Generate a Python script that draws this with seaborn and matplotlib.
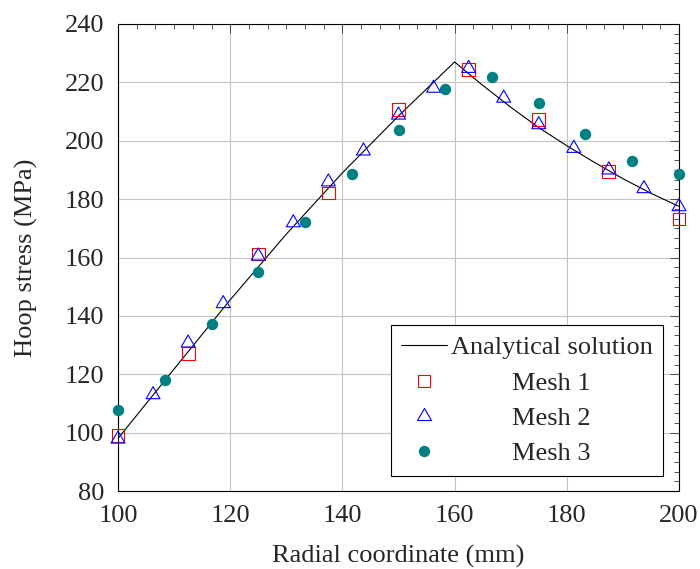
import numpy as np
import pandas as pd
import matplotlib
matplotlib.use("Agg")
import matplotlib.pyplot as plt
import seaborn as sns
from matplotlib.path import Path
from matplotlib.lines import Line2D
from matplotlib.ticker import MultipleLocator, AutoMinorLocator

# ---------------- data ----------------
analytical_r = [100, 110, 120, 130, 140, 150, 160, 165, 170, 175, 180, 185, 190, 195, 200]
analytical_s = [98, 121.8, 145.5, 168, 189, 208.5, 227, 219, 211.5, 204.5, 198.3, 192.5, 187, 182, 177.5]

mesh1_r = [100, 112.5, 125, 137.5, 150, 162.5, 175, 187.5, 200]
mesh1_s = [99.1, 127.2, 161.2, 182.1, 210.8, 224.5, 207.4, 189.5, 173.2]

mesh2_r = [100, 106.25, 112.5, 118.75, 125, 131.25, 137.5, 143.75, 150,
           156.25, 162.5, 168.75, 175, 181.25, 187.5, 193.75, 200]
mesh2_s = [97.8, 113.0, 130.7, 144.2, 160.5, 171.9, 185.9, 196.5, 208.8,
           218.0, 224.8, 214.6, 205.5, 197.4, 190.0, 183.6, 177.4]

mesh3_r = [100, 108.33, 116.67, 125, 133.33, 141.67, 150, 158.33, 166.67,
           175, 183.33, 191.67, 200]
mesh3_s = [107.8, 118.1, 137.1, 154.9, 172.2, 188.6, 203.8, 217.8, 221.8,
           212.9, 202.4, 193.2, 188.7]

labels = ["Analytical solution", "Mesh 1", "Mesh 2", "Mesh 3"]
x_label = "Radial coordinate (mm)"
y_label = "Hoop stress (MPa)"

# ---------------- style ----------------
sns.set_style("white")
plt.rcParams["font.family"] = ["Liberation Serif", "DejaVu Serif"]
plt.rcParams["mathtext.fontset"] = "stix"
FS = 19

tri = Path([(0, 1), (-0.8660, -0.5), (0.8660, -0.5), (0, 1)],
           [Path.MOVETO, Path.LINETO, Path.LINETO, Path.CLOSEPOLY])

fig = plt.figure(figsize=(7.0, 5.69), dpi=100)
ax = fig.add_axes([118 / 700, 1 - 491 / 569, (679 - 118) / 700, (491 - 24) / 569])

sns.lineplot(x=analytical_r, y=analytical_s, color="black", linewidth=0.8,
             ax=ax, zorder=2)

sns.scatterplot(x=mesh1_r, y=mesh1_s, marker="s", s=9.2 ** 2, linewidth=0.8,
                ax=ax, zorder=3, clip_on=False)
pc = ax.collections[-1]
pc.set_facecolor("none"); pc.set_edgecolor("red")

sns.scatterplot(x=mesh2_r, y=mesh2_s, marker=tri, s=11.6 ** 2, linewidth=0.8,
                ax=ax, zorder=4, clip_on=False)
pc = ax.collections[-1]
pc.set_facecolor("none"); pc.set_edgecolor("blue")

sns.scatterplot(x=mesh3_r, y=mesh3_s, marker="o", s=8.2 ** 2, linewidth=0,
                ax=ax, zorder=5, clip_on=False)
pc = ax.collections[-1]
pc.set_facecolor("#008080"); pc.set_edgecolor("#008080")

ax.set_xlim(100, 200)
ax.set_ylim(80, 240)
ax.xaxis.set_major_locator(MultipleLocator(20))
ax.yaxis.set_major_locator(MultipleLocator(20))
ax.xaxis.set_minor_locator(AutoMinorLocator(6))
ax.yaxis.set_minor_locator(AutoMinorLocator(6))
ax.grid(True, which="major", color="#c4c4c4", linewidth=0.8, zorder=0)
ax.set_axisbelow(True)

ax.tick_params(which="both", direction="in", top=True, right=True,
               color="#333333", width=0.6, labelsize=FS)
ax.tick_params(which="major", length=6.5)
ax.tick_params(which="minor", length=3.5)
ax.tick_params(axis="y", pad=10)
ax.tick_params(axis="x", pad=10)
for sp in ax.spines.values():
    sp.set_color("black"); sp.set_linewidth(0.8); sp.set_visible(True)

ax.set_xlabel(x_label, fontsize=FS, labelpad=13)
ax.set_ylabel(y_label, fontsize=FS, labelpad=19)

handles = [
    Line2D([], [], color="black", linewidth=0.8),
    Line2D([], [], marker="s", ls="", mfc="none", mec="red", ms=9.2, mew=0.8),
    Line2D([], [], marker=tri, ls="", mfc="none", mec="blue", ms=11.6, mew=0.8),
    Line2D([], [], marker="o", ls="", mfc="#008080", mec="#008080", ms=8.2, mew=0),
]
leg = ax.legend(handles, labels, loc="lower right",
                bbox_to_anchor=(0.9715, 0.0321), borderaxespad=0,
                fontsize=FS, frameon=True, fancybox=False, framealpha=1,
                edgecolor="black", handlelength=1.75, handletextpad=0.12,
                borderpad=0.4, labelspacing=0.45)
leg.get_frame().set_linewidth(0.8)

fig.canvas.draw()
r = fig.canvas.get_renderer()
texts = leg.get_texts()
w0 = texts[0].get_window_extent(r).width
for t in texts[1:]:
    w = t.get_window_extent(r).width
    t.set_x((w0 - w) / 2)

fig.savefig("out.png", dpi=100)
